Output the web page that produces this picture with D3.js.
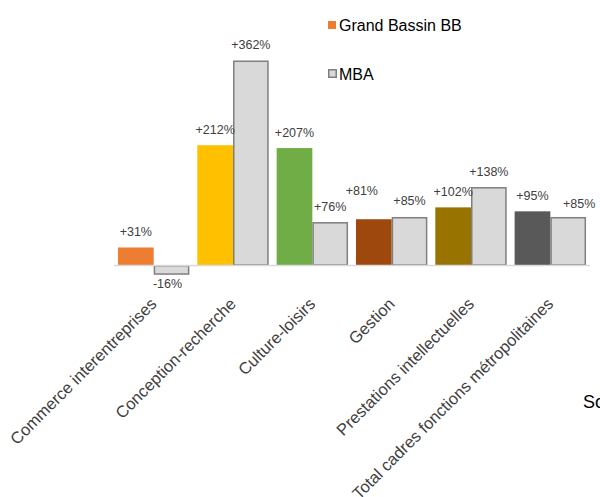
<!DOCTYPE html>
<html><head><meta charset="utf-8">
<script src="https://cdn.jsdelivr.net/npm/d3@7"></script>
<style>
html,body{margin:0;padding:0;background:#fff;overflow:hidden;}
svg{display:block;font-family:"Liberation Sans",Arial,sans-serif;}
</style></head>
<body>
<script>
const categories = ["Commerce interentreprises","Conception-recherche","Culture-loisirs","Gestion","Prestations intellectuelles","Total cadres fonctions métropolitaines"];
const grandBassin = [31, 212, 207, 81, 102, 95];
const mba = [-16, 362, 76, 85, 138, 85];
const seriesNames = ["Grand Bassin BB", "MBA"];
const gbColors = ["#ed7d31","#ffc000","#70ad47","#9e480e","#997300","#595959"];

const W = 600, H = 497;
const svg = d3.select("body").append("svg").attr("width", W).attr("height", H);

const x = d3.scaleBand().domain(categories).range([114, 590]).paddingInner(0.1).paddingOuter(0.05);
const xs = d3.scaleBand().domain(seriesNames).range([0, x.bandwidth()]);
const y = d3.scaleLinear().domain([0, 362]).range([265, 60.5]);

const fmt = v => (v >= 0 ? "+" : "") + v + "%";

// label nudges (layout only)
const nudge = {"0-1":[-4,0],"3-0":[-12,-13],"5-1":[11,3]};

const data = [];
categories.forEach((c,i) => {
  data.push({c, i, s:0, v:grandBassin[i]});
  data.push({c, i, s:1, v:mba[i]});
});

const g = svg.append("g");
g.selectAll("rect.bar").data(data).join("rect")
  .attr("class","bar")
  .attr("x", d => x(d.c) + xs(seriesNames[d.s]) + (d.s ? 0.75 : 0))
  .attr("width", d => xs.bandwidth() - (d.s ? 1.5 : 0))
  .attr("y", d => Math.min(y(d.v), y(0)) + (d.s ? 0.75 : 0))
  .attr("height", d => Math.abs(y(d.v) - y(0)) - (d.s ? 0.75 : 0))
  .attr("fill", d => d.s ? "#d9d9d9" : gbColors[d.i])
  .attr("stroke", d => d.s ? "#7f7f7f" : "none")
  .attr("stroke-width", 1.5);

// axis baseline
g.append("line").attr("x1", 114).attr("x2", 590).attr("y1", y(0)+0.5).attr("y2", y(0)+0.5)
  .attr("stroke", "#d9d9d9").attr("stroke-width", 1.5);

// value labels
g.selectAll("text.val").data(data).join("text")
  .attr("class","val")
  .attr("x", d => x(d.c) + xs(seriesNames[d.s]) + xs.bandwidth()/2 + ((nudge[d.i+"-"+d.s]||[0,0])[0]))
  .attr("y", d => (d.v >= 0 ? y(d.v) - 11.5 : y(d.v) + 14) + ((nudge[d.i+"-"+d.s]||[0,0])[1]))
  .attr("text-anchor","middle")
  .attr("font-size", 12.5)
  .attr("fill", "#404040")
  .text(d => fmt(d.v));

// category labels
const xAxis = d3.axisBottom(x).tickSize(0).tickPadding(0);
const ax = svg.append("g").attr("transform", `translate(0,${y(0)})`).call(xAxis);
ax.select(".domain").remove();
ax.selectAll("text")
  .attr("font-family", '"Liberation Sans",Arial,sans-serif')
  .attr("font-size", 16.5)
  .attr("fill", "#404040")
  .attr("text-anchor", "end")
  .attr("dy", 0)
  .attr("y", 0)
  .attr("transform", "translate(4,40) rotate(-45)");

// legend
const leg = svg.append("g");
leg.append("rect").attr("x", 328).attr("y", 21).attr("width", 8).attr("height", 8).attr("fill", gbColors[0]);
leg.append("text").attr("x", 339).attr("y", 31).attr("font-size", 16).attr("fill", "#000").text(seriesNames[0]);
leg.append("rect").attr("x", 328.75).attr("y", 69.75).attr("width", 7.5).attr("height", 7.5)
  .attr("fill", "#d9d9d9").attr("stroke", "#7f7f7f").attr("stroke-width", 1.5);
leg.append("text").attr("x", 339).attr("y", 80).attr("font-size", 16).attr("fill", "#000").text(seriesNames[1]);

// source (cut off at right edge, as in the reference)
svg.append("text").attr("x", 583).attr("y", 408).attr("font-size", 18).attr("fill", "#000").text("Source : Insee");
</script>
</body></html>
